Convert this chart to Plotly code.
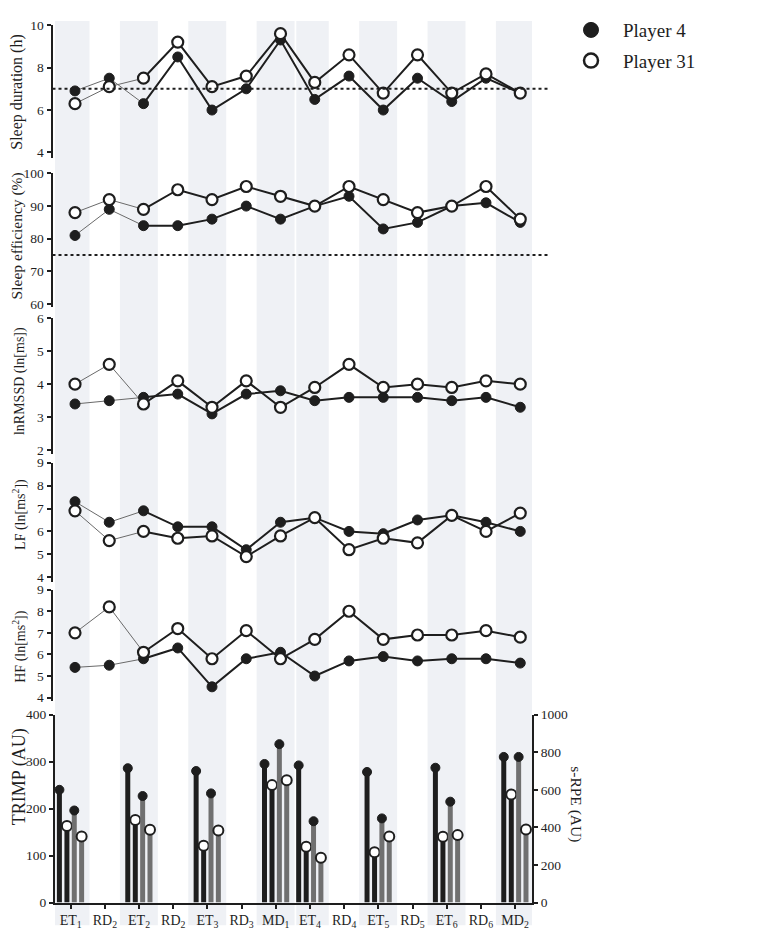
import plotly.graph_objects as go
import numpy as np

# ---------------- data ----------------
categories = ["ET<sub>1</sub>", "RD<sub>2</sub>", "ET<sub>2</sub>", "RD<sub>2</sub>", "ET<sub>3</sub>",
              "RD<sub>3</sub>", "MD<sub>1</sub>", "ET<sub>4</sub>", "RD<sub>4</sub>", "ET<sub>5</sub>",
              "RD<sub>5</sub>", "ET<sub>6</sub>", "RD<sub>6</sub>", "MD<sub>2</sub>"]

sleep_dur_p4 = [6.9, 7.5, 6.3, 8.5, 6.0, 7.0, 9.3, 6.5, 7.6, 6.0, 7.5, 6.4, 7.5, 6.8]
sleep_dur_p31 = [6.3, 7.1, 7.5, 9.2, 7.1, 7.6, 9.6, 7.3, 8.6, 6.8, 8.6, 6.8, 7.7, 6.8]
sleep_eff_p4 = [81, 89, 84, 84, 86, 90, 86, 90, 93, 83, 85, 90, 91, 85]
sleep_eff_p31 = [88, 92, 89, 95, 92, 96, 93, 90, 96, 92, 88, 90, 96, 86]
lnrmssd_p4 = [3.4, 3.5, 3.6, 3.7, 3.1, 3.7, 3.8, 3.5, 3.6, 3.6, 3.6, 3.5, 3.6, 3.3]
lnrmssd_p31 = [4.0, 4.6, 3.4, 4.1, 3.3, 4.1, 3.3, 3.9, 4.6, 3.9, 4.0, 3.9, 4.1, 4.0]
lf_p4 = [7.3, 6.4, 6.9, 6.2, 6.2, 5.2, 6.4, 6.6, 6.0, 5.9, 6.5, 6.7, 6.4, 6.0]
lf_p31 = [6.9, 5.6, 6.0, 5.7, 5.8, 4.9, 5.8, 6.6, 5.2, 5.7, 5.5, 6.7, 6.0, 6.8]
hf_p4 = [5.4, 5.5, 5.8, 6.3, 4.5, 5.8, 6.1, 5.0, 5.7, 5.9, 5.7, 5.8, 5.8, 5.6]
hf_p31 = [7.0, 8.2, 6.1, 7.2, 5.8, 7.1, 5.8, 6.7, 8.0, 6.7, 6.9, 6.9, 7.1, 6.8]

# training days only (ET / MD)
trimp_p4 = [240, 286, 280, 295, 292, 278, 287, 310]
trimp_p31 = [163, 176, 121, 250, 119, 107, 140, 230]
srpe_p4 = [490, 567, 581, 843, 433, 448, 537, 775]
srpe_p31 = [352, 387, 384, 651, 239, 352, 359, 389]

sleep_dur_threshold = 7
sleep_eff_threshold = 75

# ---------------- layout helpers ----------------
W, H = 772, 939
PAGE_OFF = 8  # default body margin of the html page
FONT = "Liberation Serif"
INK = "#1e1e1e"
GRAY_BAR = "#707070"
THIN = "#6a6a6a"
BAND = "#eff1f5"


def fy(p):
    return 1 - (p - PAGE_OFF) / H


def fx(p):
    return (p - PAGE_OFF) / W


idx = np.arange(len(categories))
train_idx = np.array([i for i, c in enumerate(categories) if c.startswith("ET") or c.startswith("MD")])

# panel: (title, p4, p31, top tick val, top px, bottom tick val, bottom px, axis-end px, tickvals, title font, title y px, title x px)
panels = [
    ("Sleep duration (h)", sleep_dur_p4, sleep_dur_p31, 10, 18.3, 4, 147.7, 153, [4, 6, 8, 10], 16, 86, 17),
    ("Sleep efficiency (%)", sleep_eff_p4, sleep_eff_p31, 100, 169, 60, 301.7, 305, [60, 70, 80, 90, 100], 15.5, 233, 17),
    ("lnRMSSD (ln[ms])", lnrmssd_p4, lnrmssd_p31, 6, 316, 2, 450.3, 454, [2, 3, 4, 5, 6], 14, 380, 20),
    ("LF (ln[ms<sup>2</sup>])", lf_p4, lf_p31, 9, 463, 4, 579.3, 584, [4, 5, 6, 7, 8, 9], 14, 516, 20),
    ("HF (ln[ms<sup>2</sup>])", hf_p4, hf_p31, 9, 592, 4, 701.7, 705, [4, 5, 6, 7, 8, 9], 14, 650, 20),
]

axis_common = dict(showline=True, linewidth=2, linecolor=INK, ticks="outside", ticklen=4,
                   tickwidth=1.5, tickcolor=INK, showgrid=False, zeroline=False,
                   tickfont=dict(family=FONT, size=13.5, color=INK))

fig = go.Figure()
layout = {}
annotations = []
shapes = []

LINE_X_RANGE = [-0.657, 13.343]
LINE_X_DOMAIN = [fx(52.5), fx(532)]

for k, (title, p4, p31, tv, tp, bv, bp, ep, tickvals, tfs, ty, tx) in enumerate(panels, start=1):
    xa = "x" if k == 1 else f"x{k}"
    ya = "y" if k == 1 else f"y{k}"
    xkey = "xaxis" if k == 1 else f"xaxis{k}"
    ykey = "yaxis" if k == 1 else f"yaxis{k}"
    rmin = bv - (ep - bp) * (tv - bv) / (bp - tp)
    layout[xkey] = dict(domain=LINE_X_DOMAIN, range=LINE_X_RANGE, visible=False, anchor=ya)
    layout[ykey] = dict(domain=[fy(ep), fy(tp)], range=[rmin, tv], tickvals=tickvals,
                        anchor=xa, **axis_common)
    for vals in (p4, p31):
        fig.add_trace(go.Scatter(x=idx[:3], y=vals[:3], mode="lines", xaxis=xa, yaxis=ya,
                                 line=dict(color=THIN, width=1), showlegend=False, hoverinfo="skip"))
        fig.add_trace(go.Scatter(x=idx[2:], y=vals[2:], mode="lines", xaxis=xa, yaxis=ya,
                                 line=dict(color=INK, width=2), showlegend=False, hoverinfo="skip"))
    fig.add_trace(go.Scatter(x=idx, y=p4, mode="markers", xaxis=xa, yaxis=ya, cliponaxis=False,
                             marker=dict(size=10, color=INK, line=dict(color=INK, width=1)),
                             showlegend=False, name="Player 4"))
    fig.add_trace(go.Scatter(x=idx, y=p31, mode="markers", xaxis=xa, yaxis=ya, cliponaxis=False,
                             marker=dict(size=11, color="white", line=dict(color=INK, width=2.2)),
                             showlegend=False, name="Player 31"))
    annotations.append(dict(text=title, x=fx(tx), y=fy(ty), xref="paper", yref="paper",
                            textangle=-90, showarrow=False, xanchor="center", yanchor="middle",
                            font=dict(family=FONT, size=tfs, color=INK)))

# thresholds
for ya, val in (("y", sleep_dur_threshold), ("y2", sleep_eff_threshold)):
    shapes.append(dict(type="line", xref="paper", yref=ya, x0=fx(52.5), x1=fx(548), y0=val, y1=val,
                       line=dict(color=INK, width=2, dash="dot")))

# ---------------- bar panel ----------------
BAR_W = 0.146
centers = [-0.33, -0.11, 0.105, 0.32]
bar_series = [
    (trimp_p4, "y6", INK, "filled"),
    (trimp_p31, "y6", INK, "open"),
    (srpe_p4, "y7", GRAY_BAR, "filled"),
    (srpe_p31, "y7", GRAY_BAR, "open"),
]
for (vals, ya, col, kind), c in zip(bar_series, centers):
    fig.add_trace(go.Bar(x=train_idx, y=vals, xaxis="x6", yaxis=ya, width=BAR_W, offset=c - BAR_W / 2,
                         marker=dict(color=col, line=dict(width=0)), showlegend=False, hoverinfo="skip"))
for (vals, ya, col, kind), c in zip(bar_series, centers):
    if kind == "filled":
        mk = dict(size=9, color=INK, line=dict(color=INK, width=1))
    else:
        mk = dict(size=10, color="white", line=dict(color=INK, width=2))
    fig.add_trace(go.Scatter(x=train_idx + c, y=vals, mode="markers", xaxis="x6", yaxis=ya,
                             cliponaxis=False, marker=mk, showlegend=False, hoverinfo="skip"))

layout["xaxis6"] = dict(domain=[fx(55), fx(532)], range=[-0.459, 13.496], anchor="y6",
                        tickvals=list(idx), ticktext=categories,
                        **{**axis_common, "tickfont": dict(family=FONT, size=14, color=INK)})
layout["yaxis6"] = dict(domain=[fy(910), fy(719)], range=[0, 400], tickvals=[0, 100, 200, 300, 400],
                        anchor="x6", **axis_common)
layout["yaxis7"] = dict(range=[0, 1000], tickvals=[0, 200, 400, 600, 800, 1000], overlaying="y6",
                        side="right", anchor="x6", **axis_common)

annotations.append(dict(text="TRIMP (AU)", x=fx(19.5), y=fy(782), xref="paper", yref="paper",
                        textangle=-90, showarrow=False, xanchor="center", yanchor="middle",
                        font=dict(family=FONT, size=18, color=INK)))
annotations.append(dict(text="s-RPE (AU)", x=fx(576), y=fy(810), xref="paper", yref="paper",
                        textangle=90, showarrow=False, xanchor="center", yanchor="middle",
                        font=dict(family=FONT, size=15.5, color=INK)))

# shaded training-day bands
prev_x1 = None
prev_i = None
for i in train_idx:
    x0 = i - 0.56
    if prev_i is not None and prev_i == i - 1:
        x0 = prev_x1 + 0.05
    x1 = i + 0.55
    shapes.insert(0, dict(type="rect", xref="x6", yref="paper", x0=x0, x1=x1, y0=fy(933), y1=fy(14),
                          fillcolor=BAND, line=dict(width=0), layer="below"))
    prev_x1, prev_i = x1, i

# legend entries
fig.add_trace(go.Scatter(x=[None], y=[None], mode="markers", name="Player 4", legendgroup="a",
                         marker=dict(size=15, color=INK, line=dict(color=INK, width=1))))
fig.add_trace(go.Scatter(x=[None], y=[None], mode="markers", name="Player 31", legendgroup="b",
                         marker=dict(size=14, color="white", line=dict(color=INK, width=2.5))))

fig.update_layout(
    width=W, height=H, autosize=False,
    margin=dict(l=0, r=0, t=0, b=0),
    paper_bgcolor="white", plot_bgcolor="rgba(0,0,0,0)",
    barmode="overlay",
    font=dict(family=FONT, color=INK),
    showlegend=True,
    legend=dict(x=fx(559), y=fy(4), xanchor="left", yanchor="top", bgcolor="rgba(0,0,0,0)",
                font=dict(family=FONT, size=19, color=INK), itemwidth=54, tracegroupgap=3),
    annotations=annotations,
    shapes=shapes,
    **layout,
)

fig.write_html("out.html")
